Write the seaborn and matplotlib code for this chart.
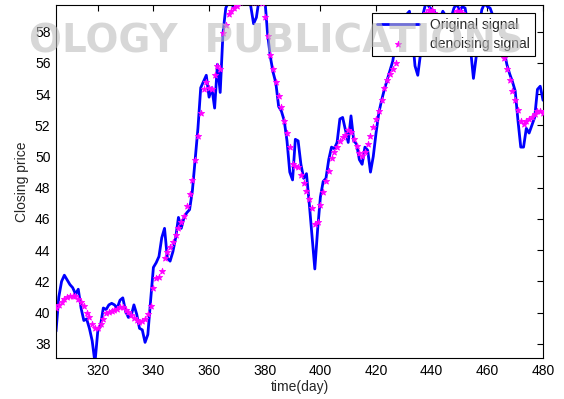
import numpy as np
import pandas as pd
import matplotlib
matplotlib.use("Agg")
import matplotlib.pyplot as plt
import seaborn as sns

# jours 305 .. 480
first_day = 305
original = [
    38.8, 41.0, 42.0, 42.4, 42.1, 41.8, 41.6, 41.2, 41.5, 40.3,   # 305-314
    39.5, 39.6, 39.0, 38.2, 36.8, 38.8, 39.2, 40.3, 40.2, 40.5,   # 315-324
    40.6, 40.5, 40.3, 40.8, 40.95, 40.1, 39.7, 39.8, 40.5, 39.9,  # 325-334
    39.0, 38.9, 38.1, 38.6, 40.8, 42.9, 43.2, 43.6, 44.8, 45.4,   # 335-344
    43.5, 43.3, 43.9, 44.8, 46.1, 45.4, 46.1, 46.4, 46.6, 47.8,   # 345-354
    49.8, 51.8, 54.4, 54.8, 55.2, 53.8, 54.4, 53.1, 55.9, 54.1,   # 355-364
    57.9, 59.5, 59.9, 59.8, 59.5, 60.0, 60.4, 60.6, 60.5, 60.2,   # 365-374
    59.6, 58.5, 58.9, 60.1, 60.6, 60.2, 57.9, 56.4, 55.4, 54.7,   # 375-384
    53.2, 52.9, 52.3, 51.0, 49.0, 48.5, 51.1, 51.0, 49.5, 48.6,   # 385-394
    48.9, 47.0, 44.9, 42.8, 45.3, 47.4, 48.4, 48.6, 49.8, 50.6,   # 395-404
    50.5, 50.9, 52.4, 52.5, 51.7, 50.9, 52.6, 51.0, 50.8, 49.8,   # 405-414
    49.5, 50.6, 50.4, 49.0, 50.0, 51.5, 52.8, 53.6, 54.3, 54.9,   # 415-424
    55.5, 56.1, 57.2, 58.0, 58.5, 58.8, 59.1, 59.3, 57.8, 55.8,   # 425-434
    55.2, 56.6, 59.2, 59.9, 59.6, 59.4, 59.3, 58.6, 58.8, 59.3,   # 435-444
    59.0, 58.5, 58.9, 59.5, 59.8, 59.3, 59.6, 59.5, 58.5, 56.8,   # 445-454
    55.0, 56.4, 58.2, 59.4, 59.8, 59.6, 59.5, 59.0, 58.6, 58.0,   # 455-464
    57.4, 56.8, 55.9, 55.3, 54.8, 54.2, 52.3, 50.6, 50.6, 51.8,   # 465-474
    51.5, 52.0, 52.5, 54.3, 54.5, 53.6,                           # 475-480
]
denoised = [
    40.3, 40.5, 40.7, 40.85, 41.0, 41.05, 41.1, 41.05, 40.9, 40.7,   # 305-314
    40.4, 40.0, 39.7, 39.25, 39.0, 39.05, 39.25, 39.6, 39.95, 40.05, # 315-324
    40.1, 40.2, 40.25, 40.35, 40.35, 40.2, 40.05, 39.85, 39.65, 39.5,# 325-334
    39.4, 39.45, 39.6, 39.9, 40.4, 41.6, 42.2, 42.3, 42.7, 43.5,     # 335-344
    43.9, 44.2, 44.5, 45.0, 45.4, 45.8, 46.2, 46.8, 47.6, 48.5,      # 345-354
    49.8, 51.3, 52.8, 54.3, 54.8, 54.4, 54.3, 55.2, 55.8, 55.6,      # 355-364
    57.9, 58.4, 59.1, 59.3, 59.5, 59.65, 59.9, 60.1, 60.2, 60.2,     # 365-374
    60.0, 59.9, 59.9, 60.0, 59.8, 58.9, 57.7, 56.5, 55.6, 54.8,      # 375-384
    53.9, 53.2, 52.3, 51.5, 50.6, 49.5, 49.4, 49.3, 48.8, 48.3,      # 385-394
    47.8, 47.3, 46.7, 45.7, 45.8, 46.9, 47.7, 48.4, 49.1, 49.9,      # 395-404
    50.3, 50.6, 51.0, 51.25, 51.35, 51.7, 51.6, 51.1, 50.7, 50.2,    # 405-414
    50.05, 50.3, 50.8, 51.3, 51.9, 52.4, 52.9, 53.6, 54.4, 54.9,     # 415-424
    55.3, 55.6, 56.0, 56.6, 57.2, 57.8, 58.2, 58.5, 58.5, 58.3,      # 425-434
    58.2, 58.4, 58.8, 59.2, 59.4, 59.4, 59.2, 59.0, 58.9, 59.0,      # 435-444
    58.9, 58.8, 58.9, 59.1, 59.3, 59.3, 59.2, 58.9, 58.4, 57.9,      # 445-454
    57.6, 57.7, 58.1, 58.5, 58.8, 58.9, 58.8, 58.5, 58.1, 57.6,      # 455-464
    57.0, 56.3, 55.6, 54.9, 54.2, 53.6, 53.0, 52.25, 52.05, 52.3,    # 465-474
    52.4, 52.5, 52.7, 52.9, 52.9, 52.8,                              # 475-480
]
days = np.arange(first_day, first_day + len(original))

x_ticks = [320, 340, 360, 380, 400, 420, 440, 460, 480]
y_ticks = [38, 40, 42, 44, 46, 48, 50, 52, 54, 56, 58]

df = pd.DataFrame({"day": days, "original": original, "denoised": denoised})

##########################################################

sns.set_style("white")
plt.rcParams['font.family'] = ['Liberation Sans', 'DejaVu Sans']

fig = plt.figure(figsize=(5.64, 3.99), dpi=100)
ax = fig.add_axes([0.0993, 0.1028, 0.8635, 0.8847])

sns.lineplot(data=df, x="day", y="original", color="#0000ff", linewidth=2,
             label="Original signal", ax=ax, zorder=2)
sns.scatterplot(data=df, x="day", y="denoised", color="#ff00ff", marker="*",
                s=22, linewidth=0.6, edgecolor="#ff00ff",
                label="denoising signal", ax=ax, zorder=3)

ax.set_xlim(305, 480)
ax.set_ylim(37.1, 59.7)
ax.set_xticks(x_ticks)
ax.set_yticks(y_ticks)
ax.tick_params(direction="in", top=True, right=True, length=4, width=0.8,
               labelsize=10, colors="black", pad=4)
for sp in ax.spines.values():
    sp.set_color("black")
    sp.set_linewidth(0.8)

ax.set_xlabel("time(day)", fontsize=10, labelpad=2)
ax.set_ylabel("Closing price", fontsize=10, labelpad=4)

leg = ax.legend(loc="upper right", fontsize=10, frameon=True, fancybox=False,
                borderaxespad=0.6, handlelength=3.0, borderpad=0.35,
                labelspacing=0.35, framealpha=1)
leg.get_frame().set_edgecolor("black")
leg.get_frame().set_linewidth(0.8)

# filigrane de l'image d'origine
fig.text(0.49, 0.895, "OLOGY  PUBLICATIONS", fontsize=28, fontweight="bold",
         color="#bdbdbd", alpha=0.6, ha="center", va="center",
         family="DejaVu Sans", zorder=10)

fig.savefig("out.png", dpi=100)
